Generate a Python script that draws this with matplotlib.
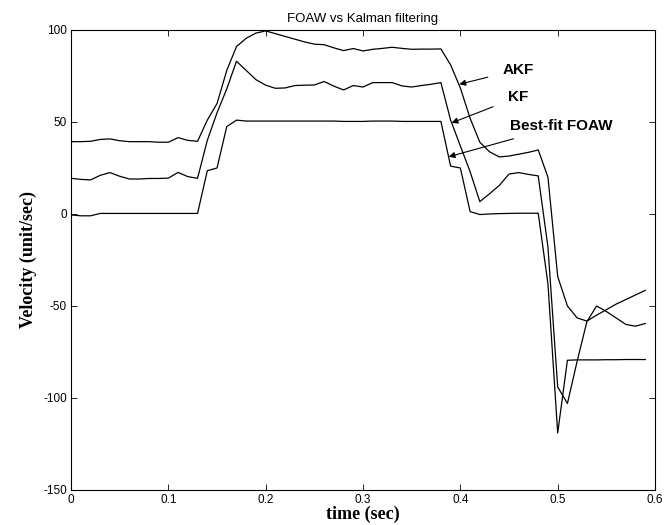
import numpy as np
import matplotlib
matplotlib.use("Agg")
import matplotlib.pyplot as plt

plt.rcParams['axes.unicode_minus'] = False

# time axis, 10 ms samples
t = np.arange(60) * 0.01

foaw = [-0.5, -1, -1, 0.3, 0.3, 0.3, 0.3, 0.3, 0.3, 0.3,
        0.3, 0.3, 0.3, 0.3, 23.5, 25, 47.5, 51, 50.5, 50.5,
        50.5, 50.5, 50.5, 50.5, 50.5, 50.5, 50.5, 50.5, 50.3, 50.3,
        50.3, 50.5, 50.5, 50.5, 50.3, 50.3, 50.3, 50.3, 50.3, 26,
        25, 1.3, -0.3, 0, 0.2, 0.3, 0.4, 0.4, 0.4, -38,
        -119, -79.5, -79.3, -79.3, -79.3, -79.2, -79.2, -79.1, -79.1, -79.1]

kf = [19.4, 18.8, 18.5, 21, 22.5, 20.5, 19, 19, 19.3, 19.3,
      19.5, 22.6, 20.3, 19.4, 40, 55, 68, 83, 78, 73,
      70, 68.3, 68.5, 69.8, 70, 70.1, 72, 69.5, 67.4, 69.8,
      69, 71.4, 71.4, 71.4, 69.6, 69, 69.8, 70.5, 71.4, 51,
      37, 23, 6.7, 11, 15.5, 21.7, 22.5, 21.5, 20.7, -18,
      -94, -103, -80, -58.5, -50, -53, -56.5, -60, -61, -59.5]

akf = [39.3, 39.3, 39.5, 40.5, 40.8, 39.8, 39.3, 39.3, 39.3, 39,
       39, 41.5, 40, 39.5, 51, 60, 78, 91, 95.5, 98.3,
       99.5, 98, 96.5, 95, 93.5, 92.3, 92, 90.3, 88.8, 89.9,
       88.6, 89.5, 90, 90.6, 90, 89.5, 89.6, 89.6, 89.7, 81,
       68.5, 52, 39, 33.8, 31, 31.5, 32.5, 33.5, 34.8, 20,
       -34, -50, -56.5, -58.2, -55, -52, -49, -46.5, -44, -41.5]

# annotation text, arrow tip and text anchor (data coords)
labels = ["AKF", "KF", "Best-fit FOAW"]
tips = [(0.399, 70.5), (0.391, 49.5), (0.388, 31.1)]
text_pos = [(0.4435, 78.5), (0.4485, 63.5), (0.4505, 48.0)]

fig = plt.figure(figsize=(6.65, 5.25), dpi=100)
ax = fig.add_axes([0.1068, 0.0667, 0.8782, 0.8762])

for series in (akf, kf, foaw):
    ax.plot(t, series, color='black', linewidth=0.9)

for lab, tip, pos in zip(labels, tips, text_pos):
    ax.annotate(lab, xy=tip, xytext=pos, fontsize=11, fontweight='bold',
                family='Liberation Sans', va='center', ha='left',
                arrowprops=dict(arrowstyle='-|>', color='black', lw=0.8,
                                mutation_scale=9, shrinkA=9, shrinkB=0))

ax.set_xlim(0, 0.6)
ax.set_ylim(-150, 100)
ax.set_xticks(np.arange(0, 0.61, 0.1))
ax.set_xticklabels(["0", "0.1", "0.2", "0.3", "0.4", "0.5", "0.6"])
ax.set_yticks([-150, -100, -50, 0, 50, 100])
ax.tick_params(direction='in', top=True, right=True, length=4, width=0.6,
               labelsize=8.5, pad=3)
for lbl in ax.get_xticklabels() + ax.get_yticklabels():
    lbl.set_family('Liberation Sans')
for s in ax.spines.values():
    s.set_linewidth(0.8)

ax.set_title("FOAW vs Kalman filtering", fontsize=9.5, family='Liberation Sans', pad=6)
ax.set_xlabel("time (sec)", fontsize=13, fontweight='bold', family='Liberation Serif', labelpad=0)
ax.set_ylabel("Velocity (unit/sec)", fontsize=13, fontweight='bold', family='Liberation Serif')
ax.yaxis.set_label_coords(-0.058, 0.5)

fig.savefig("out.png", dpi=100)
